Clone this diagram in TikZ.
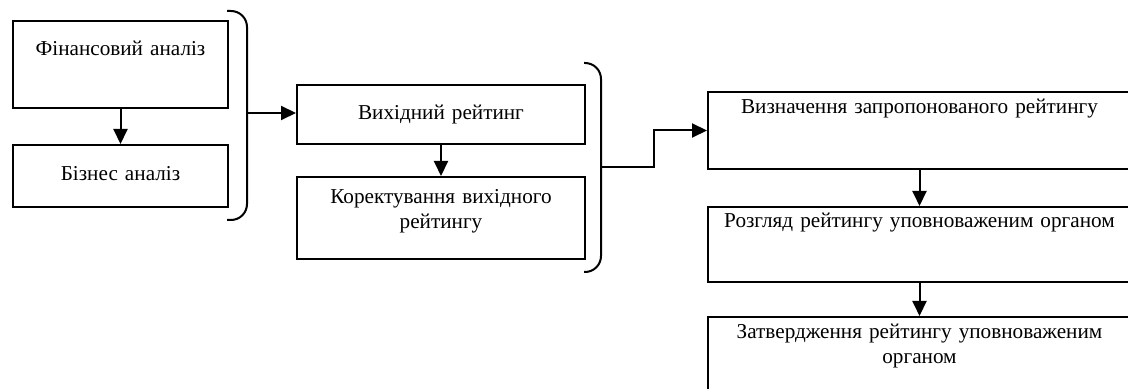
\documentclass[tikz,border=0pt]{standalone}
\usepackage{fontspec}
\setmainfont{Liberation Serif}
\usetikzlibrary{arrows.meta}

\begin{document}
\begin{tikzpicture}[x=0.5pt,y=-0.5pt]
% Styles
\tikzset{box/.style={draw,line width=1pt,anchor=north west,align=center,inner xsep=0pt,inner ysep=0pt,font=\fontsize{10.6}{12.5}\selectfont}}
\tikzset{arr/.style={line width=1pt,-{Triangle[length=7.5pt,width=7pt]}}}
\tikzset{brace/.style={line width=1pt,rounded corners=8pt}}
% Frame
\useasboundingbox (0,0) rectangle (1128,389);
\clip (0,0) rectangle (1128,389);

% first column
\node[box,text width=107.5pt,text height=17.5pt,text depth=26pt] (fa) at (12,20) {Фінансовий аналіз};
\node[box,text width=107.5pt,text height=18pt,text depth=13pt] (ba) at (12,144) {Бізнес аналіз};

% second column
\node[box,text width=144pt,text height=17.5pt,text depth=12pt] (vr) at (296,84) {Вихідний рейтинг};
\node[box,text width=144pt,text height=13.5pt,text depth=27.5pt] (kr) at (296,176) {Коректування вихідного\\рейтингу};

% third column
\node[box,text width=211.5pt,text height=11pt,text depth=27.5pt] (zr) at (707,91) {Визначення запропонованого рейтингу};
\node[box,text width=211.5pt,text height=10.5pt,text depth=27pt] (rz) at (707,206) {Розгляд рейтингу уповноваженим органом};
\node[box,text width=211.5pt,text height=10.5pt,text depth=45pt] (zt) at (707,316) {Затвердження рейтингу уповноваженим\\органом};

% the brackets
\draw[brace] (227,11) -- (247,11) -- (247,220) -- (227,220);
\coordinate (b1) at (247,113);
\draw[brace] (584,63) -- (601,63) -- (601,272) -- (584,272);
\coordinate (b2) at (601,167);

% the arrows
\draw[arr] (b1) -- (b1 -| vr.west);
\draw[arr] (b2) -- ++(53,0) |- (zr.west);
\foreach \a/\b in {fa/ba,vr/kr,zr/rz,rz/zt} {
\draw[arr] (\a.south) -- (\b.north);
}
\end{tikzpicture}
\end{document}
